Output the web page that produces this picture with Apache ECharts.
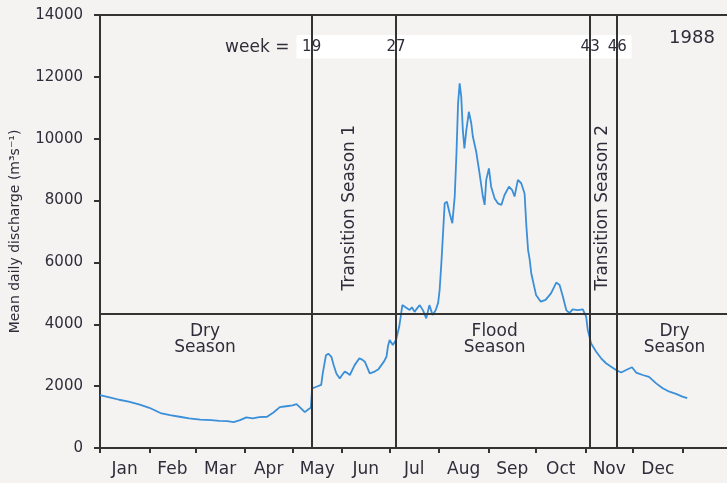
<!DOCTYPE html>
<html>
<head>
<meta charset="utf-8">
<script src="https://cdn.jsdelivr.net/npm/echarts@6/dist/echarts.min.js"></script>
<style>
  html, body { margin: 0; padding: 0; background: #f4f3f1; }
  #chart { width: 727px; height: 483px; }
</style>
</head>
<body>
<div id="chart"></div>
<script>
// Mean daily discharge, 1988 hydrograph (day of year -> m3/s)
const months = ['Jan', 'Feb', 'Mar', 'Apr', 'May', 'Jun', 'Jul', 'Aug', 'Sep', 'Oct', 'Nov', 'Dec'];
const monthStartDays = [0, 31, 60, 91, 121, 152, 182, 213, 244, 274, 305, 335, 366];
const weekNumbers = ['19', '27', '43', '46'];
const weekLineDays = [133, 186, 308, 325];
const seasonThreshold = 4350;

const days = [
  0, 6, 12, 18, 25, 31, 38, 44, 50, 56, 63, 70, 75, 80, 84, 88, 92, 96, 100, 105,
  109, 113, 117, 121, 123.5, 126, 128.7, 131, 132.5, 133.3, 136, 139, 140, 142, 143.5, 145.4, 147, 148.6, 150.7, 152,
  153.8, 155.5, 157, 160, 163, 165, 166.4, 168, 169.5, 172.6, 175, 176.8, 178.5, 180, 181, 182, 184, 186, 188, 190,
  192, 194.6, 196, 197.7, 199, 200.9, 203, 205, 207, 209, 211, 212.5, 213.4, 214.5, 215.3, 216.6, 218, 219.7, 221.4, 222.9,
  224, 225, 226, 227, 228, 229, 230.2, 231.8, 233.3, 234.3, 236.4, 238.5, 240.6, 241.7, 242.7, 244.4, 245.8, 248,
  250, 252.2, 254.2, 257, 259, 260.5, 262.6, 264.7, 266.8, 267.9, 269, 270, 271, 274, 277, 280, 283.4, 286.7,
  288.8, 290.9, 293, 295, 297, 300.3, 303.4, 305.5, 306.5, 308.6, 311.8, 314.9, 318, 321.2, 324.3, 327.5, 330.6, 334.3,
  336.9, 341, 345, 349.5, 353.6, 357.8, 362, 366, 369
];
const discharge = [
  1710, 1640, 1560, 1500, 1400, 1300, 1130, 1060, 1010, 960, 920, 900, 880, 870, 840, 900, 990, 960, 1000, 1010,
  1150, 1320, 1350, 1380, 1420, 1300, 1160, 1250, 1300, 1930, 1980, 2040, 2420, 3000, 3050, 2950, 2650, 2400, 2250, 2350,
  2470, 2420, 2360, 2680, 2900, 2850, 2790, 2600, 2410, 2470, 2550, 2680, 2800, 2950, 3300, 3490, 3330, 3490, 3920, 4620,
  4550, 4460, 4550, 4400, 4500, 4620, 4450, 4190, 4620, 4300, 4460, 4700, 5100, 5970, 6700, 7910, 7960, 7590, 7270, 8130,
  9530, 11140, 11790, 11360, 10280, 9690, 10280, 10870, 10500, 10070, 9580, 8880, 8130, 7860, 8670, 9040, 8450, 8070,
  7910, 7860, 8180, 8450, 8340, 8130, 8670, 8560, 8230, 7200, 6400, 6100, 5650, 4950, 4730, 4790, 5000, 5350,
  5270, 4890, 4460, 4360, 4480, 4460, 4480, 4250, 3820, 3380, 3110, 2900, 2740, 2630, 2520, 2440, 2520, 2610,
  2440, 2360, 2300, 2090, 1930, 1820, 1750, 1660, 1610
];

const ink = '#2f2d3a';
const frame = '#333333';
const fontFamily = '"DejaVu Sans", sans-serif';

// month labels sit midway between month boundaries
const monthMidDays = months.map((m, i) => (monthStartDays[i] + monthStartDays[i + 1]) / 2);

// text placed in data coordinates
const seasonNotes = [
  { text: 'Dry\nSeason', at: [66, 3500] },
  { text: 'Flood\nSeason', at: [248, 3500] },
  { text: 'Dry\nSeason', at: [361, 3500] }
];
const transitionNotes = [
  { text: 'Transition Season 1', at: [157, 7770] },
  { text: 'Transition Season 2', at: [316, 7770] }
];
const weekRowValue = 12960;
const weekBox = [[123.5, 13350], [334, 12590]];

const chart = echarts.init(document.getElementById('chart'), null, { renderer: 'canvas' });

const noteSeries = (name, data, labelOpts, z) => ({
  name, type: 'scatter', symbolSize: 0, z, silent: true,
  itemStyle: { opacity: 1 },
  data: data.map(d => ({ value: d.at, label: { formatter: d.text } })),
  label: Object.assign({
    show: true, position: 'inside', color: ink, opacity: 1, fontFamily, fontSize: 17
  }, labelOpts)
});

chart.setOption({
  backgroundColor: '#f4f3f1',
  animation: false,
  grid: { left: 100, right: 0, top: 15, bottom: 35, outerBoundsMode: 'none', containLabel: false },
  xAxis: [{
    type: 'value', min: 0, max: 394,
    axisLine: { show: true, lineStyle: { color: frame, width: 2 } },
    axisTick: { show: true, customValues: monthStartDays, length: 5, inside: false,
      lineStyle: { color: frame, width: 2 } },
    axisLabel: { customValues: monthMidDays, margin: 13, color: ink, fontFamily, fontSize: 17,
      formatter: v => months[monthMidDays.indexOf(v)] || '' },
    splitLine: { show: false }
  }, {
    type: 'value', min: 0, max: 394, position: 'top',
    axisLine: { show: true, lineStyle: { color: frame, width: 2 } },
    axisTick: { show: false }, axisLabel: { show: false }, splitLine: { show: false }
  }],
  yAxis: {
    type: 'value', min: 0, max: 14000, interval: 2000,
    name: 'Mean daily discharge (m\u00b3s\u207b\u00b9)',
    nameLocation: 'middle', nameRotate: 90, nameGap: 78,
    nameTextStyle: { color: ink, fontFamily, fontSize: 14 },
    axisLine: { show: true, lineStyle: { color: frame, width: 2 } },
    axisTick: { show: true, length: 6, lineStyle: { color: frame, width: 2 } },
    axisLabel: { margin: 17, color: ink, fontFamily, fontSize: 15, formatter: v => String(v) },
    splitLine: { show: false }
  },
  series: [
    {
      name: 'Season boundaries', type: 'line', data: [], z: 1, silent: true,
      markLine: {
        symbol: 'none', silent: true, label: { show: false },
        lineStyle: { color: frame, width: 2, type: 'solid' },
        data: weekLineDays.map(d => ({ xAxis: d })).concat([{ yAxis: seasonThreshold }])
      }
    },
    {
      name: 'Discharge', type: 'line', z: 2, silent: true,
      data: days.map((d, i) => [d, discharge[i]]),
      showSymbol: false, smooth: false,
      lineStyle: { color: '#3a8fd8', width: 1.8 }
    },
    {
      name: 'Week box', type: 'line', data: [], z: 3, silent: true,
      markArea: {
        silent: true, itemStyle: { color: '#ffffff', opacity: 1 },
        data: [[{ coord: weekBox[0] }, { coord: weekBox[1] }]]
      }
    },
    noteSeries('Week numbers',
      weekNumbers.map((w, i) => ({ text: w, at: [weekLineDays[i], weekRowValue] })),
      { fontSize: 15 }, 4),
    noteSeries('Week caption', [{ text: 'week =', at: [119, weekRowValue] }],
      { position: 'left', distance: 0, fontSize: 17 }, 4),
    noteSeries('Year', [{ text: '1988', at: [372, 13250] }], { fontSize: 18 }, 4),
    noteSeries('Seasons', seasonNotes, { lineHeight: 16 }, 4),
    noteSeries('Transitions', transitionNotes, { rotate: 90 }, 4)
  ]
});
</script>
</body>
</html>
